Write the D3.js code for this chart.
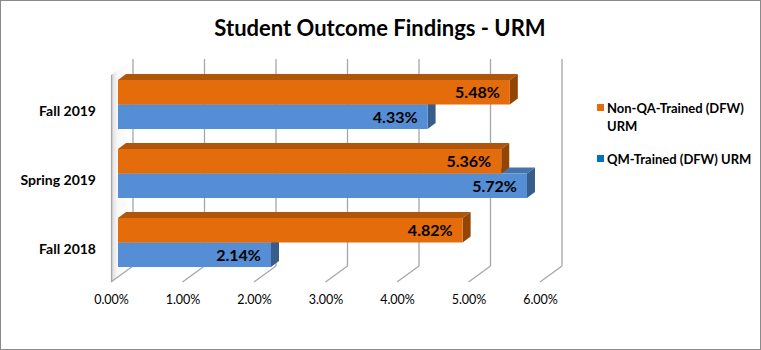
<!DOCTYPE html>
<html>
<head>
<meta charset="utf-8">
<script src="https://cdn.jsdelivr.net/npm/d3@7"></script>
<style>
  html, body { margin: 0; padding: 0; background: #fff; }
  svg { display: block; font-family: Lato, "Open Sans", sans-serif; }
</style>
</head>
<body>
<svg id="chart" width="761" height="350"></svg>
<script>
// Terms, top to bottom
const categories = ["Fall 2019", "Spring 2019", "Fall 2018"];
// DFW rates (%) for under-represented minority students
const nonQaValues = [5.48, 5.36, 4.82];
const qmValues = [4.33, 5.72, 2.14];
const seriesNames = ["Non-QA-Trained (DFW) URM", "QM-Trained (DFW) URM"];
const tickValues = [0, 1, 2, 3, 4, 5, 6];

const svg = d3.select("#chart");
const W = 761, H = 350;

// Oblique depth of the bars and of the plot box
const barDX = 8, barDY = 6;
const floorDX = 22, floorDY = 16;

// Front face of the bars, back wall gridlines, and floor front edge
const xFront = d3.scaleLinear().domain([0, 6]).range([118, 547]);
const xBack = d3.scaleLinear().domain([0, 6]).range([133, 562]);
const xFloor = d3.scaleLinear().domain([0, 6]).range([111, 540]);
const backTop = 59, backBottom = 266;

const y = d3.scaleBand().domain(categories).range([70, 277])
  .paddingInner(0.29).paddingOuter(0.145);
const ySub = d3.scaleBand().domain(["nonqa", "qm"]).range([0, y.bandwidth()]);

const colors = {
  nonqa: { front: "#E46C0A", top: "#B0560A", side: "#934505", legend: "#E46C0A" },
  qm:    { front: "#558ED5", top: "#4673AB", side: "#385D8A", legend: "#0070C0" }
};

const fmt = v => d3.format(".2f")(v) + "%";

// Outer frame
svg.append("rect").attr("x", 0.5).attr("y", 0.5).attr("width", W - 1).attr("height", H - 1)
  .attr("fill", "#fff").attr("stroke", "#8a8a8a");

// Title
svg.append("text").attr("x", 380).attr("y", 36).attr("text-anchor", "middle")
  .attr("font-size", 22).attr("font-weight", 700).attr("fill", "#000")
  .text("Student Outcome Findings - URM");

// Left wall (seen nearly edge-on)
const defs = svg.append("defs");
const wallGrad = defs.append("linearGradient").attr("id", "wallGrad")
  .attr("x1", 0).attr("x2", 1).attr("y1", 0).attr("y2", 0);
wallGrad.append("stop").attr("offset", 0).attr("stop-color", "#bdbdbd");
wallGrad.append("stop").attr("offset", 0.12).attr("stop-color", "#e6e6e6");
wallGrad.append("stop").attr("offset", 0.3).attr("stop-color", "#f8f8f8");
wallGrad.append("stop").attr("offset", 1).attr("stop-color", "#ffffff");

const x0f = xFloor(0), x0b = xBack(0);
svg.append("path")
  .attr("d", `M${x0f},${backTop + floorDY}L${x0b},${backTop}L${x0b},${backBottom}L${x0f},${backBottom + floorDY}Z`)
  .attr("fill", "url(#wallGrad)");
svg.append("line").attr("x1", x0f + 0.5).attr("x2", x0f + 0.5)
  .attr("y1", backTop + floorDY).attr("y2", backBottom + floorDY)
  .attr("stroke", "#a6a6a6").attr("stroke-width", 1.2);

// Back-wall gridlines and their floor continuations
const grid = svg.append("g").attr("stroke", "#a6a6a6").attr("stroke-width", 1.3).attr("fill", "none");
tickValues.forEach(t => {
  grid.append("line").attr("x1", xBack(t)).attr("x2", xBack(t))
    .attr("y1", backTop).attr("y2", backBottom);
  grid.append("line").attr("x1", xBack(t)).attr("y1", backBottom)
    .attr("x2", xBack(t) - floorDX).attr("y2", backBottom + floorDY);
});

// Tick labels along the floor front edge
const axis = d3.axisBottom(xFloor).tickValues(tickValues).tickSize(0).tickPadding(0)
  .tickFormat(v => d3.format(".2f")(v) + "%");
const axisG = svg.append("g").attr("transform", `translate(0,${backBottom + floorDY + 13})`).call(axis);
axisG.select(".domain").remove();
axisG.selectAll("text").attr("font-size", 12.5).attr("fill", "#000")
  .attr("font-family", "Lato, 'Open Sans', sans-serif");

// 3D bars
const rows = categories.map((c, i) => ({ cat: c, nonqa: nonQaValues[i], qm: qmValues[i] }));
const barsG = svg.append("g");

function drawBar(g, key, cat, v) {
  const c = colors[key];
  const xa = xFront(0), xb = xFront(v);
  const y0 = y(cat) + ySub(key), y1 = y0 + ySub.bandwidth();
  g.append("path")
    .attr("d", `M${xa},${y0}L${xa + barDX},${y0 - barDY}L${xb + barDX},${y0 - barDY}L${xb},${y0}Z`)
    .attr("fill", c.top);
  g.append("path")
    .attr("d", `M${xb},${y0}L${xb + barDX},${y0 - barDY}L${xb + barDX},${y1 - barDY}L${xb},${y1}Z`)
    .attr("fill", c.side);
  g.append("rect").attr("x", xa).attr("y", y0).attr("width", xb - xa).attr("height", y1 - y0)
    .attr("fill", c.front);
  g.append("text").attr("x", xb - 10).attr("y", (y0 + y1) / 2 + 6)
    .attr("text-anchor", "end").attr("font-size", 16).attr("font-weight", 700)
    .attr("fill", "#000").text(fmt(v));
}

rows.forEach(r => {
  const g = barsG.append("g");
  // lower series first so the upper bar's front covers its top face
  drawBar(g, "qm", r.cat, r.qm);
  drawBar(g, "nonqa", r.cat, r.nonqa);
});

// Category labels
svg.append("g").selectAll("text").data(categories).join("text")
  .attr("x", 96).attr("y", d => y(d) + y.bandwidth() / 2 + 11)
  .attr("text-anchor", "end").attr("font-size", 14).attr("font-weight", 700)
  .attr("fill", "#000").text(d => d);

// Legend
const legend = svg.append("g").attr("font-size", 13).attr("font-weight", 700).attr("fill", "#000");
legend.append("rect").attr("x", 597).attr("y", 104).attr("width", 7).attr("height", 7)
  .attr("fill", colors.nonqa.legend);
legend.append("text").attr("x", 607).attr("y", 113).text("Non-QA-Trained (DFW)");
legend.append("text").attr("x", 607).attr("y", 131).text("URM");
legend.append("rect").attr("x", 597).attr("y", 155).attr("width", 7).attr("height", 7)
  .attr("fill", colors.qm.legend);
legend.append("text").attr("x", 607).attr("y", 164).text(seriesNames[1]);
</script>
</body>
</html>
